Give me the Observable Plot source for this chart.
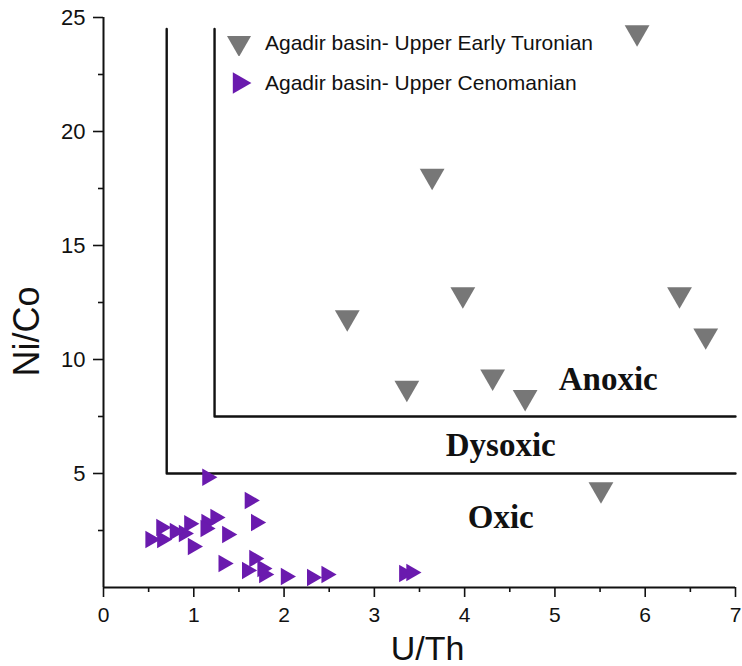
<!DOCTYPE html>
<html>
<head>
<meta charset="utf-8">
<script src="https://cdn.jsdelivr.net/npm/d3@7"></script>
<script src="https://cdn.jsdelivr.net/npm/@observablehq/plot@0.6"></script>
<style>
  html, body { margin: 0; padding: 0; background: #fff; }
  #wrap { position: relative; width: 742px; height: 666px; }
  #legend { position: absolute; left: 226px; top: 23px; font-family: "Liberation Sans", Arial, sans-serif; font-size: 21px; color: #111; }
  #legend .row { display: flex; align-items: center; height: 40px; }
  #legend svg { width: 26px; height: 26px; margin-right: 13px; }
</style>
</head>
<body>
<div id="wrap"><div id="legend"></div></div>
<script>
// --- data ---
const turonianName = "Agadir basin- Upper Early Turonian";
const cenomanianName = "Agadir basin- Upper Cenomanian";

const turonianUTh  = [5.91, 3.64, 3.98, 2.70, 6.38, 6.67, 3.36, 4.31, 4.67, 5.51];
const turonianNiCo = [24.35, 18.05, 12.85, 11.85, 12.85, 11.05, 8.75, 9.25, 8.35, 4.3];

const cenomanianUTh  = [1.15, 1.62, 1.69, 1.24, 1.14, 1.13, 0.95, 0.89, 0.79, 0.64, 0.65, 0.52, 0.99, 1.37, 1.33, 1.67, 1.59, 1.76, 1.78, 2.02, 2.31, 2.47, 3.33, 3.41];
const cenomanianNiCo = [4.84, 3.82, 2.85, 3.07, 2.85, 2.59, 2.80, 2.37, 2.46, 2.63, 2.10, 2.10, 1.80, 2.32, 1.05, 1.27, 0.75, 0.83, 0.57, 0.48, 0.44, 0.57, 0.61, 0.66];

// boundary polylines (U/Th, Ni/Co)
const oxicBoundaryUTh  = [0.70, 0.70, 7];
const oxicBoundaryNiCo = [24.5, 5, 5];
const anoxicBoundaryUTh  = [1.23, 1.23, 7];
const anoxicBoundaryNiCo = [24.5, 7.5, 7.5];

const zoneNames = ["Anoxic", "Dysoxic", "Oxic"];
const zoneUTh   = [5.59, 4.40, 4.40];
const zoneNiCo  = [8.68, 5.75, 2.59];

const xTicks = [0, 1, 2, 3, 4, 5, 6, 7];
const xMinorTicks = [0.5, 1.5, 2.5, 3.5, 4.5, 5.5, 6.5];
const yTicks = [5, 10, 15, 20, 25];
const yMinorTicks = [2.5, 7.5, 12.5, 17.5, 22.5];
const xLabel = "U/Th";
const yLabel = "Ni/Co";

// --- build tables ---
const turonian = turonianUTh.map((x, i) => ({x, y: turonianNiCo[i]}));
const cenomanian = cenomanianUTh.map((x, i) => ({x, y: cenomanianNiCo[i]}));
const oxicLine = oxicBoundaryUTh.map((x, i) => ({x, y: oxicBoundaryNiCo[i]}));
const anoxicLine = anoxicBoundaryUTh.map((x, i) => ({x, y: anoxicBoundaryNiCo[i]}));
const zones = zoneNames.map((t, i) => ({t, x: zoneUTh[i], y: zoneNiCo[i]}));

const gray = "#777777";
const purple = "#6a1aae";
const font = "'Liberation Sans', Arial, sans-serif";

const chart = Plot.plot({
  width: 742, height: 666,
  marginLeft: 103, marginRight: 7, marginTop: 17, marginBottom: 79,
  x: {domain: [0, 7]},
  y: {domain: [0, 25]},
  style: {fontFamily: font, background: "white", color: "#111"},
  marks: [
    Plot.axisX({ticks: xTicks, tickSize: 10, tickPadding: 10, fontSize: 21, strokeWidth: 1.6, label: null, tickFormat: d => String(d)}),
    Plot.axisX({ticks: xMinorTicks, tickSize: 5, strokeWidth: 1.6, label: null, tickFormat: () => ""}),
    Plot.axisY({ticks: yTicks, tickSize: 10, tickPadding: 8, fontSize: 22, strokeWidth: 1.6, label: null, tickFormat: d => String(d)}),
    Plot.axisY({ticks: yMinorTicks, tickSize: 5, strokeWidth: 1.6, label: null, tickFormat: () => ""}),
    Plot.ruleX([0], {y1: 0, y2: 25, stroke: "#111", strokeWidth: 2}),
    Plot.ruleY([0], {x1: 0, x2: 7, stroke: "#111", strokeWidth: 2}),
    Plot.line(oxicLine, {x: "x", y: "y", stroke: "#111", strokeWidth: 2.4}),
    Plot.line(anoxicLine, {x: "x", y: "y", stroke: "#111", strokeWidth: 2.4}),
    Plot.text(zones, {x: "x", y: "y", text: "t", textAnchor: "middle", lineAnchor: "bottom",
      fontFamily: "'Liberation Serif', 'Times New Roman', serif", fontWeight: "bold", fontSize: 33, fill: "#111"}),
    Plot.dot(turonian, {x: "x", y: "y", symbol: "triangle", rotate: 180, r: 9.2, fill: gray, stroke: "none"}),
    Plot.dot(cenomanian, {x: "x", y: "y", symbol: "triangle", rotate: 90, r: 6.5, fill: purple, stroke: "none"}),
    Plot.text([xLabel], {frameAnchor: "bottom", dx: 8, dy: 72, lineAnchor: "bottom", textAnchor: "middle", fontSize: 34, fill: "#111"}),
    Plot.text([yLabel], {frameAnchor: "left", dx: -90, dy: 29, rotate: -90, lineAnchor: "top", textAnchor: "middle", fontSize: 36, fill: "#111"})
  ]
});
document.getElementById("wrap").prepend(chart);

// legend
const legend = document.getElementById("legend");
const triPath = (size) => d3.symbol(d3.symbolTriangle, size)();
[[turonianName, gray, 180, 250], [cenomanianName, purple, 90, 200]].forEach(([name, color, rot, size]) => {
  const row = document.createElement("div");
  row.className = "row";
  const svg = d3.create("svg").attr("viewBox", "-13 -13 26 26");
  svg.append("path").attr("d", triPath(size)).attr("fill", color).attr("transform", `rotate(${rot})`);
  row.appendChild(svg.node());
  const span = document.createElement("span");
  span.textContent = name;
  row.appendChild(span);
  legend.appendChild(row);
});
</script>
</body>
</html>
